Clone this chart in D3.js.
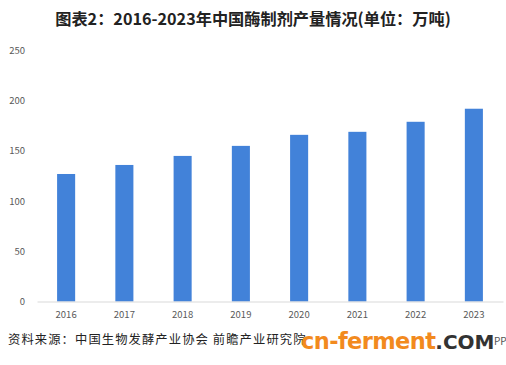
<!DOCTYPE html>
<html><head><meta charset="utf-8">
<script src="https://cdn.jsdelivr.net/npm/d3@7"></script>
<style>body{margin:0;background:#fff}svg{display:block}</style>
</head><body>
<script>
const categories = ["2016","2017","2018","2019","2020","2021","2022","2023"];
const values = [127, 136, 145, 155, 166, 169, 179, 192];
const yTicks = [0, 50, 100, 150, 200, 250];
const title = "图表2：2016-2023年中国酶制剂产量情况(单位：万吨)";
const source = "资料来源：中国生物发酵产业协会 前瞻产业研究院";

const W = 506, H = 365;
const svg = d3.select("body").append("svg").attr("width", W).attr("height", H);
const font = "'Noto Sans CJK SC', 'Noto Sans', sans-serif";

const x = d3.scaleBand().domain(categories).range([37, 503]).paddingInner(0.69).paddingOuter(0.345);
const y = d3.scaleLinear().domain([0, 250]).range([301.5, 50.5]);

svg.append("text").attr("x", 253).attr("y", 25).attr("text-anchor", "middle")
  .attr("font-family", font).attr("font-weight", "bold").attr("font-size", 16.2).attr("fill", "#222")
  .text(title);

// y axis labels
const ya = svg.append("g").attr("transform", "translate(25,0)")
  .call(d3.axisLeft(y).tickValues(yTicks).tickSize(0).tickPadding(0));
ya.select(".domain").remove();
ya.selectAll("text").attr("font-family", font).attr("font-size", 9.5).attr("fill", "#595959");

// bars
svg.append("g").selectAll("rect").data(values).join("rect")
  .attr("x", (d, i) => x(categories[i]))
  .attr("width", x.bandwidth())
  .attr("y", d => y(d))
  .attr("height", d => y(0) - y(d))
  .attr("fill", "#4282d9");

// x axis
const xa = svg.append("g").attr("transform", `translate(0,${y(0)})`)
  .call(d3.axisBottom(x).tickSize(0).tickPadding(10));
xa.select(".domain").attr("stroke", "#d9d9d9");
xa.selectAll("text").attr("font-family", font).attr("font-size", 9.5).attr("fill", "#595959");

svg.append("text").attr("x", 8).attr("y", 344).attr("font-family", font).attr("font-size", 12.3)
  .attr("letter-spacing", 1.1).attr("fill", "#222").text(source);

// logo overlay
const logo = svg.append("text").attr("x", 301).attr("y", 349).attr("font-family", "'DejaVu Sans', sans-serif")
  .attr("font-weight", "bold").attr("font-size", 22.5);
logo.append("tspan").attr("fill", "#f28a1e").attr("letter-spacing", -0.6).text("cn-ferment");
logo.append("tspan").attr("fill", "#333").attr("font-size", 20).text(".COM");
svg.append("text").attr("x", 494).attr("y", 345).attr("font-family", font).attr("font-size", 10).attr("fill", "#555").text("PP");
</script>
</body></html>
